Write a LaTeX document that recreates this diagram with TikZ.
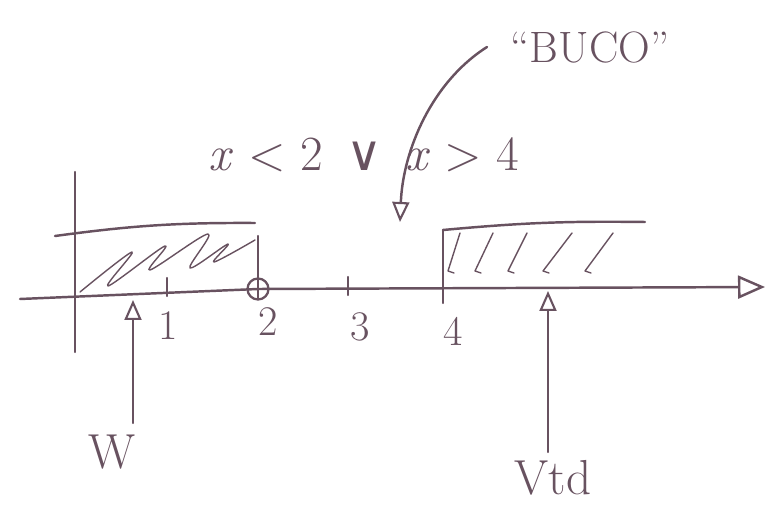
\documentclass[tikz,border=0pt]{standalone}
\usepackage{fontspec}
\newfontfamily\symfont{DejaVu Sans}
\usetikzlibrary{arrows.meta}

\definecolor{ink}{RGB}{104,82,96}

\begin{document}
\begin{tikzpicture}[
  x=0.02cm, y=-0.02cm,
  line cap=round, line join=round,
  pen/.style={draw=ink, line width=1.4pt},
  hatch/.style={draw=ink, line width=0.8pt},
  axisarr/.style={
    pen, -{Triangle[open, length=5.4mm, width=4.6mm, line width=1.4pt]}
  },
  ptr/.style={
    pen, -{Triangle[open, length=4mm, width=3.4mm, line width=1.2pt]}
  },
  hole/.style={
    circle, draw=ink, line width=1.3pt,
    minimum size=4.2mm, inner sep=0pt
  },
  num/.style={text=ink, font=\fontsize{24}{28}\selectfont, inner sep=0pt},
  lbl/.style={text=ink, font=\fontsize{28}{32}\selectfont, inner sep=0pt}
]
\useasboundingbox (0,0) rectangle (777,509);

% --- axis --------------------------------------------------
\coordinate (ax0)   at (20,299);
\coordinate (axmid) at (258,289);
\coordinate (ax1)   at (765,287);
\draw[axisarr] (ax0) -- (axmid) -- (ax1);

\coordinate (vtop) at (75,172);
\coordinate (vbot) at (75,352);
\draw[pen] (vtop) -- (vbot);

% ticks and numbers
\coordinate (t1) at (167,278);
\coordinate (t3) at (348,277);
\draw[pen] (t1) -- ++(0,18);
\draw[pen] (t3) -- ++(0,18);

\node[hole] (p2) at (axmid) {};

\node[num] (n1) at (168,326) {1};
\node[num] (n2) at (268,322) {2};
\node[num] (n3) at (360,327) {3};
\node[num] (n4) at (453,331) {4};

% --- left region (x < 2) ------------------------------------
\coordinate (lbl0) at (55,236);
\coordinate (lbr0) at (255,223);
\coordinate (lbr1) at (258,236);
\coordinate (lbr2) at (258,299);
\draw[pen] (lbl0) to[bend left=4] (lbr0);
\draw[pen] (lbr1) -- (lbr2);
\draw[hatch] plot[smooth, tension=0.6] coordinates {
  (80,292) (132,252) (108,286) (165,246) (150,270)
  (208,234) (190,268) (228,244) (214,262) (255,240)};

% --- right region (x > 4) -----------------------------------
\coordinate (rbl0) at (443,230);
\coordinate (rbl1) at (443,303);
\coordinate (rbr0) at (645,222);
\draw[pen] (rbl0) to[bend left=3] (rbr0);
\draw[pen] (rbl0) -- (rbl1);
\foreach \xa/\xb in {448/460, 475/493, 508/527, 543/572, 585/613}
  \draw[hatch] (\xa+6,273) -- (\xa,271) -- (\xb,233);

% --- pointers -----------------------------------------------
\coordinate (wfoot) at (133,423);
\coordinate (wtip)  at (133,300);
\draw[ptr] (wfoot) -- (wtip);
\node[lbl] (wlbl) at (112,452) {W};

\coordinate (vfoot) at (548,452);
\coordinate (vtip)  at (548,291);
\draw[ptr] (vfoot) -- (vtip);
\node[lbl] (vlbl) at (553,478) {Vtd};

% --- condition and hole -------------------------------------
\node[num, font=\fontsize{28}{32}\selectfont] (cond) at (364,155)
  {\itshape x \upshape< 2 \,{\symfont ∨}\, \itshape x \upshape> 4};

\node[num, font=\fontsize{25}{29}\selectfont] (buco) at (590,48) {``BUCO''};
\coordinate (bstart) at (487,47);
\coordinate (hl) at (400,222);
\draw[ptr] (bstart) .. controls (432,82) and (403,150) .. (hl);

\end{tikzpicture}
\end{document}
